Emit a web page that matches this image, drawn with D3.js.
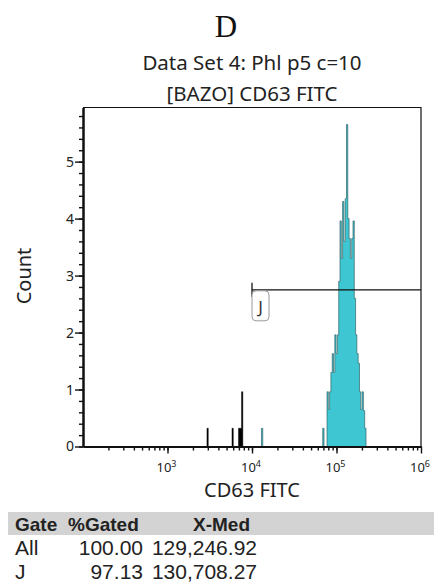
<!DOCTYPE html>
<html>
<head>
<meta charset="utf-8">
<script src="https://cdn.jsdelivr.net/npm/d3@7"></script>
<style>
  body { margin: 0; background: #fff; }
  text { font-family: "Noto Sans", "Open Sans", sans-serif; fill: #222; }
  .tbl { font-family: "Liberation Sans", Arial, sans-serif; }
</style>
</head>
<body>
<div id="chart"></div>
<script>
// histogram channels (lower edge, CD63 FITC) and counts
const binStart = [2930, 5795, 6918, 7210, 7515, 12940, 68700,
    77200, 80000, 82850, 85850, 88960, 92150, 95470, 98930, 102500, 106200,
    110000, 114000, 118100, 122400, 126800, 131300, 136100, 141000, 146000, 151300,
    156800, 162400, 168300, 174300, 180600, 187100, 193900, 200900, 208100, 215600];
const binCount = [0.32, 0.32, 0.32, 0.32, 0.96, 0.32, 0.32,
    0.96, 0.65, 0.96, 1.3, 1.63, 1.3, 1.96, 1.63, 1.96, 2.9,
    3.96, 3.3, 4.3, 3.6, 4.35, 5.65, 4.0, 3.65, 3.3, 3.65,
    3.96, 2.6, 1.96, 1.63, 1.46, 0.96, 0.65, 0.96, 0.63, 0.32];

const xMajor = [1e3, 1e4, 1e5, 1e6];
const yMajor = [0, 1, 2, 3, 4, 5];

const gateJ = { name: "J", min: 1e4, max: 1e6, level: 2.75 };

const tableHeader = ["Gate", "%Gated", "X-Med"];
const tableRows = [
    ["All", "100.00", "129,246.92"],
    ["J", "97.13", "130,708.27"]
];

const W = 434, H = 584;
const plot = { left: 83, right: 421, top: 107.5, bottom: 446.5 };
const channelRatio = Math.pow(10, 4 / 256);

const svg = d3.select("#chart").append("svg")
    .attr("width", W).attr("height", H);

let x = d3.scaleLog().domain([100, 1e6]).range([plot.left, plot.right]);
let y = d3.scaleLinear().domain([0, 5.95]).range([plot.bottom, plot.top]);

// titles
svg.append("text").attr("x", 226).attr("y", 37).attr("text-anchor", "middle")
    .style("font-family", "'Liberation Serif', serif").style("font-size", "31px")
    .style("fill", "#111").text("D");
svg.append("text").attr("x", 252).attr("y", 70).attr("text-anchor", "middle")
    .style("font-size", "20.5px").text("Data Set 4: Phl p5 c=10");
svg.append("text").attr("x", 252).attr("y", 101).attr("text-anchor", "middle")
    .style("font-size", "20.5px").text("[BAZO] CD63 FITC");

// frame (top / right)
svg.append("path")
    .attr("d", `M${plot.left},${plot.top}H${plot.right}V${plot.bottom}`)
    .attr("fill", "none").attr("stroke", "#111").attr("stroke-width", 1.2);

// histogram: group neighbouring channels into runs, draw each as a step path
let bins = binStart.map((v, i) => ({ v: v, c: binCount[i] }));
let runs = [];
bins.forEach(d => {
    let last = runs.length ? runs[runs.length - 1] : null;
    if (last && d.v / last[last.length - 1].v < channelRatio * 1.02) last.push(d);
    else runs.push([d]);
});

function stepPath(run) {
    let end = x(run[run.length - 1].v * channelRatio);
    let path = `M${x(run[0].v)},${y(0)}`;
    run.forEach((d, i) => {
        let nx = i < run.length - 1 ? x(run[i + 1].v) : end;
        path += `V${y(d.c)}H${nx}`;
    });
    return path + `V${y(0)}Z`;
}

let histG = svg.append("g");
runs.forEach(run => {
    let gated = run[0].v >= gateJ.min;
    histG.append("path").attr("d", stepPath(run))
        .attr("fill", gated ? "#3ec6d3" : "#000")
        .attr("stroke", gated ? "#2b5a5a" : "#000")
        .attr("stroke-width", gated ? 0.7 : 0.5)
        .attr("stroke-opacity", 0.9);
});

// gate J
let gy = y(gateJ.level);
svg.append("line").attr("x1", x(gateJ.min)).attr("x2", x(gateJ.max))
    .attr("y1", gy).attr("y2", gy).attr("stroke", "#111").attr("stroke-width", 1.3);
svg.append("line").attr("x1", x(gateJ.min)).attr("x2", x(gateJ.min))
    .attr("y1", gy - 7).attr("y2", gy + 7).attr("stroke", "#111").attr("stroke-width", 1.3);
svg.append("rect").attr("x", x(gateJ.min)).attr("y", gy + 1)
    .attr("width", 17).attr("height", 30).attr("rx", 4)
    .attr("fill", "#fff").attr("stroke", "#999").attr("stroke-width", 1);
svg.append("text").attr("x", x(gateJ.min) + 8.5).attr("y", gy + 23)
    .attr("text-anchor", "middle").style("font-size", "17px").style("fill", "#333")
    .text(gateJ.name);

// y axis
let yAxisG = svg.append("g").attr("transform", `translate(${plot.left},0)`);
yAxisG.call(d3.axisLeft(y).tickValues(d3.range(0, 30).map(i => i * 0.2))
    .tickSize(4).tickSizeOuter(0).tickFormat(""));
yAxisG.append("g").call(d3.axisLeft(y).tickValues(yMajor)
    .tickSize(8).tickSizeOuter(0).tickFormat(d3.format("d")));
yAxisG.selectAll(".domain").attr("stroke", "#111").attr("stroke-width", 2);
yAxisG.selectAll(".tick line").attr("stroke", "#111").attr("stroke-width", 1.4);
yAxisG.selectAll(".tick text").style("font-size", "14px").style("font-family", "'Noto Sans', sans-serif")
    .attr("fill", "#222").attr("x", -9);

// x axis
let xAxisG = svg.append("g").attr("transform", `translate(0,${plot.bottom})`);
xAxisG.call(d3.axisBottom(x).tickValues(x.ticks().filter(v => v > 100 && v < 1e6))
    .tickSize(4).tickSizeOuter(0).tickFormat(""));
xAxisG.append("g").call(d3.axisBottom(x).tickValues(xMajor)
    .tickSize(7).tickSizeOuter(0).tickFormat(""));
xAxisG.selectAll(".domain").attr("stroke", "#111").attr("stroke-width", 2);
xAxisG.selectAll(".tick line").attr("stroke", "#111").attr("stroke-width", 1.4);

xMajor.forEach(v => {
    let t = svg.append("text").attr("x", x(v) - 1).attr("y", plot.bottom + 25)
        .attr("text-anchor", "middle").style("font-size", "13px");
    t.append("tspan").text("10");
    t.append("tspan").attr("dy", -5).style("font-size", "9px").text(Math.round(Math.log10(v)));
});

// axis titles
svg.append("text").attr("x", 252).attr("y", 497).attr("text-anchor", "middle")
    .style("font-size", "20px").text("CD63 FITC");
svg.append("text").attr("transform", "translate(31,276) rotate(-90)")
    .attr("text-anchor", "middle").style("font-size", "20px").text("Count");

// stats table
svg.append("rect").attr("x", 8).attr("y", 512).attr("width", W - 8).attr("height", 23)
    .attr("fill", "#d3d3d3");
let headX = [15, 68, 193];
tableHeader.forEach((h, i) => {
    svg.append("text").attr("class", "tbl").attr("x", headX[i]).attr("y", 531)
        .style("font-size", "19px").style("font-weight", "bold").text(h);
});
let colX = [15, 143, 257];
let colAnchor = ["start", "end", "end"];
tableRows.forEach((row, r) => {
    row.forEach((cell, i) => {
        svg.append("text").attr("class", "tbl").attr("x", colX[i]).attr("y", 555 + r * 24)
            .attr("text-anchor", colAnchor[i]).style("font-size", "21px").text(cell);
    });
});
</script>
</body>
</html>
